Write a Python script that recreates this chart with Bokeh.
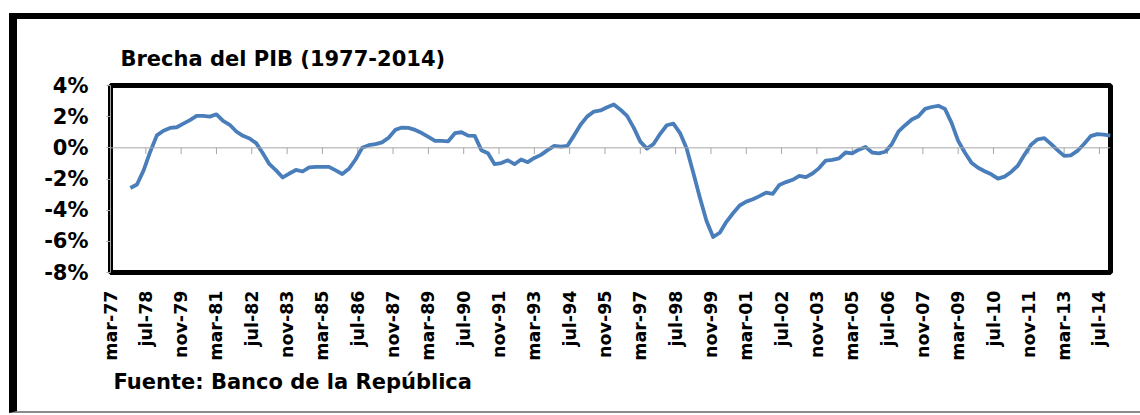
import math
import pandas as pd
from bokeh.plotting import figure
from bokeh.layouts import column
from bokeh.models import FixedTicker, Span, ColumnDataSource, Title
from bokeh.embed import file_html
from bokeh.resources import INLINE

# Brecha del PIB (%), quarterly, first value dic-1977 ; each row = one year (mar, jun, sep, dic)
start_period = "1977-12"
gap = [
    -2.58,
    -2.35, -1.45, -0.25, 0.80,   # 1978
    1.10, 1.28, 1.32, 1.55,      # 1979
    1.78, 2.05, 2.05, 2.00,      # 1980
    2.15, 1.73, 1.48, 1.05,      # 1981
    0.77, 0.60, 0.30, -0.35,     # 1982
    -1.05, -1.45, -1.90, -1.65,  # 1983
    -1.42, -1.52, -1.25, -1.22,  # 1984
    -1.22, -1.22, -1.45, -1.68,  # 1985
    -1.35, -0.75, 0.00, 0.17,    # 1986
    0.24, 0.35, 0.65, 1.15,      # 1987
    1.30, 1.28, 1.15, 0.95,      # 1988
    0.70, 0.45, 0.45, 0.42,      # 1989
    0.94, 1.00, 0.78, 0.77,      # 1990
    -0.15, -0.35, -1.05, -0.98,  # 1991
    -0.80, -1.05, -0.75, -0.92,  # 1992
    -0.65, -0.45, -0.15, 0.12,   # 1993
    0.08, 0.13, 0.80, 1.50,      # 1994
    2.02, 2.33, 2.40, 2.60,      # 1995
    2.78, 2.45, 2.05, 1.30,      # 1996
    0.40, -0.05, 0.25, 0.90,     # 1997
    1.45, 1.55, 0.95, -0.05,     # 1998
    -1.60, -3.20, -4.70, -5.72,  # 1999
    -5.45, -4.75, -4.20, -3.70,  # 2000
    -3.45, -3.30, -3.10, -2.87,  # 2001
    -2.96, -2.38, -2.20, -2.05,  # 2002
    -1.80, -1.88, -1.65, -1.30,  # 2003
    -0.82, -0.77, -0.68, -0.30,  # 2004
    -0.35, -0.12, 0.06, -0.30,   # 2005
    -0.35, -0.25, 0.25, 1.05,    # 2006
    1.45, 1.82, 2.03, 2.50,      # 2007
    2.62, 2.70, 2.50, 1.60,      # 2008
    0.45, -0.30, -0.95, -1.28,   # 2009
    -1.50, -1.70, -1.98, -1.85,  # 2010
    -1.55, -1.15, -0.45, 0.20,   # 2011
    0.55, 0.62, 0.25, -0.15,     # 2012
    -0.52, -0.48, -0.20, 0.25,   # 2013
    0.75, 0.88, 0.85, 0.78,      # 2014
]

tick_labels = ["mar-77", "jul-78", "nov-79", "mar-81", "jul-82", "nov-83", "mar-85",
               "jul-86", "nov-87", "mar-89", "jul-90", "nov-91", "mar-93", "jul-94",
               "nov-95", "mar-97", "jul-98", "nov-99", "mar-01", "jul-02", "nov-03",
               "mar-05", "jul-06", "nov-07", "mar-09", "jul-10", "nov-11", "mar-13",
               "jul-14"]
tick_step_months = 16
y_ticks = [-8, -6, -4, -2, 0, 2, 4]
y_labels = ["-8%", "-6%", "-4%", "-2%", "0%", "2%", "4%"]

title_text = "Brecha del PIB (1977-2014)"
source_text = "Fuente: Banco de la República"

# month index counted from mar-1977 (first category of the axis)
periods = pd.period_range(start=start_period, periods=len(gap), freq="3M")
month_idx = [(p.year - 1977) * 12 + p.month - 3 for p in periods]
tick_pos = [i * tick_step_months for i in range(len(tick_labels))]

FONT = "DejaVu Sans"

p = figure(width=1123, height=392, output_backend="svg", toolbar_location=None,
           x_range=(0, month_idx[-1]), y_range=(-8, 4),
           min_border_left=93, min_border_right=30, min_border_top=66,
           min_border_bottom=139, frame_width=1000, frame_height=187,
           background_fill_color="white", border_fill_color="white")
p.grid.visible = False
p.outline_line_color = "black"
p.outline_line_width = 5

# title
p.title.text = title_text
p.title.text_font = FONT
p.title.text_font_style = "bold"
p.title.text_font_size = "21px"
p.title.text_color = "black"
p.title.align = "left"
p.title.offset = 10
p.title.standoff = 30

# y axis
p.yaxis.ticker = FixedTicker(ticks=y_ticks)
p.yaxis.major_label_overrides = dict(zip(y_ticks, y_labels))
p.yaxis.axis_line_color = "#A6A6A6"
p.yaxis.major_tick_line_color = "#A6A6A6"
p.yaxis.major_tick_out = 4
p.yaxis.major_tick_in = 0
p.yaxis.minor_tick_line_color = None
p.yaxis.major_label_standoff = 18
p.yaxis.major_label_text_font = FONT
p.yaxis.major_label_text_font_style = "bold"
p.yaxis.major_label_text_font_size = "21px"
p.yaxis.major_label_text_color = "black"

# x axis (labels only)
p.xaxis.ticker = FixedTicker(ticks=tick_pos)
p.xaxis.major_label_overrides = dict(zip(tick_pos, tick_labels))
p.xaxis.major_label_orientation = math.pi / 2
p.xaxis.axis_line_color = None
p.xaxis.major_tick_line_color = None
p.xaxis.minor_tick_line_color = None
p.xaxis.major_label_standoff = 12
p.xaxis.major_label_text_font = FONT
p.xaxis.major_label_text_font_style = "bold"
p.xaxis.major_label_text_font_size = "17.5px"
p.xaxis.major_label_text_color = "black"

# footer (source)
p.add_layout(Title(text=source_text, align="left", offset=3, standoff=8,
                   text_font=FONT, text_font_style="bold", text_font_size="21px",
                   text_color="black"), "below")

# zero line with category tick marks
p.add_layout(Span(location=0, dimension="width", line_color="#A6A6A6", line_width=1))
p.segment(x0=tick_pos, y0=[0] * len(tick_pos), x1=tick_pos, y1=[-0.4] * len(tick_pos),
          line_color="#A6A6A6", line_width=1)

src = ColumnDataSource(dict(m=month_idx, gap=gap))
p.line("m", "gap", source=src, line_color="#4A7EBB", line_width=3.8, line_join="round")

# outer frame around the whole chart
layout = column(p, styles={"margin-left": "9px", "margin-top": "13px",
                           "border-left": "8px solid black",
                           "border-top": "6px solid black",
                           "border-bottom": "2px solid #8C8C8C"})

open("out.html", "w").write(file_html(layout, INLINE))
